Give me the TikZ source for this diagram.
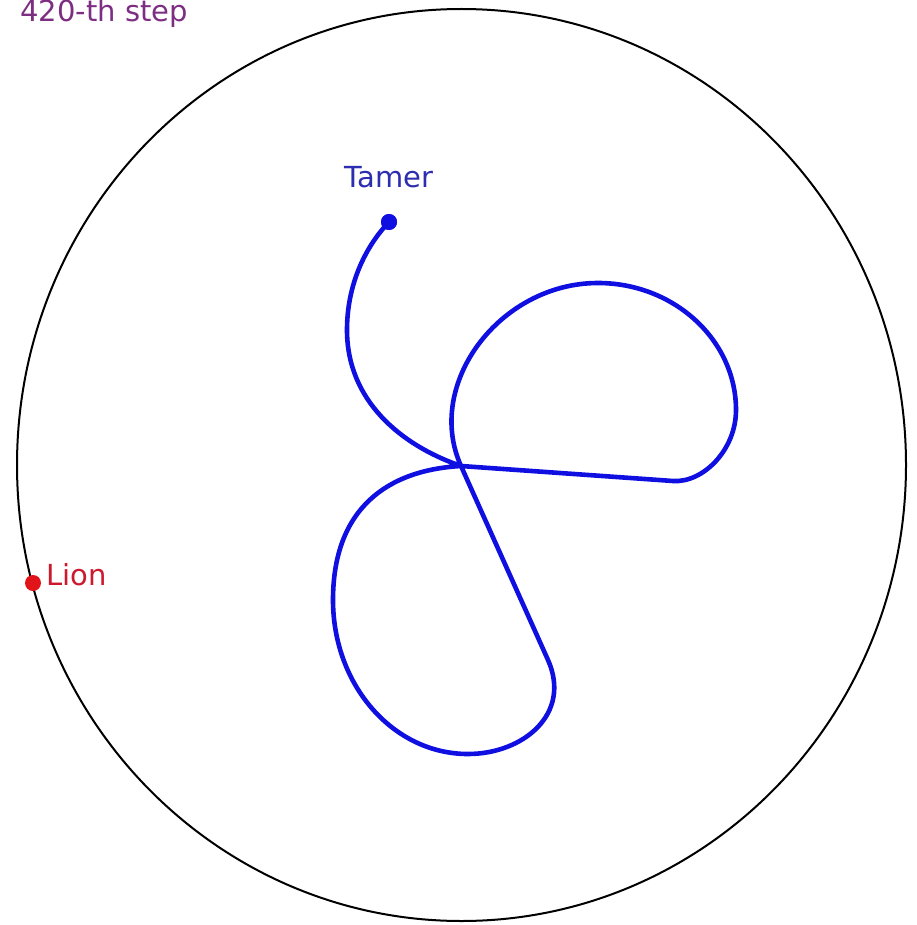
\documentclass[tikz,border=0pt]{standalone}
\usepackage{fontspec}
\setmainfont{DejaVu Sans}
\definecolor{pathblue}{RGB}{15,15,225}
\definecolor{tamertext}{RGB}{45,45,175}
\definecolor{liontext}{RGB}{205,25,45}
\definecolor{titlepurple}{RGB}{125,45,130}
\definecolor{lionred}{RGB}{225,20,25}
\tikzset{
  arena/.style={draw=black, line width=1pt},
  trail/.style={draw=pathblue, line width=2.3pt, line join=round, line cap=round},
  dotnode/.style={circle, inner sep=0pt, minimum size=8pt},
  lbl/.style={inner sep=0pt, anchor=base west, font=\fontsize{14.5pt}{17pt}\selectfont}
}
\begin{document}
\begin{tikzpicture}[x=0.5pt, y=-0.5pt]
\useasboundingbox (0,0) rectangle (916,925);
% arena
\coordinate (O) at (461.5,465);
\draw[arena] (O) ellipse [x radius=222.25pt, y radius=228pt];
% trail key points
\coordinate (C) at (461,466);
\coordinate (P1) at (673,481);
\coordinate (R) at (736,410);
\coordinate (Tp) at (598,283);
\coordinate (P2) at (548,660);
\coordinate (B) at (468,754);
\coordinate (Lb) at (333,600);
\coordinate (L1) at (347,330);
\node[dotnode, fill=pathblue] (tamer) at (389,222) {};
\draw[trail] (C) -- (P1)
  .. controls (703,483) and (736,450) .. (R)
  .. controls (736,340) and (674,283) .. (Tp)
  .. controls (500,283) and (424,384) .. (C)
  -- (P2)
  .. controls (572,714) and (523,754) .. (B)
  .. controls (393,754) and (333,685) .. (Lb)
  .. controls (333,508) and (388,470) .. (C)
  .. controls (400,445) and (347,400) .. (L1)
  .. controls (347,285) and (365,247) .. (tamer.center);
\node[dotnode, fill=pathblue] at (tamer) {};
% lion
\node[dotnode, fill=lionred] (lion) at (33,583) {};
% labels
\node[lbl, text=tamertext] (tamerlabel) at (344,188) {Tamer};
\node[lbl, text=liontext] (lionlabel) at (46,585) {Lion};
\node[lbl, text=titlepurple] (title) at (20,22) {420-th step};
\end{tikzpicture}
\end{document}
